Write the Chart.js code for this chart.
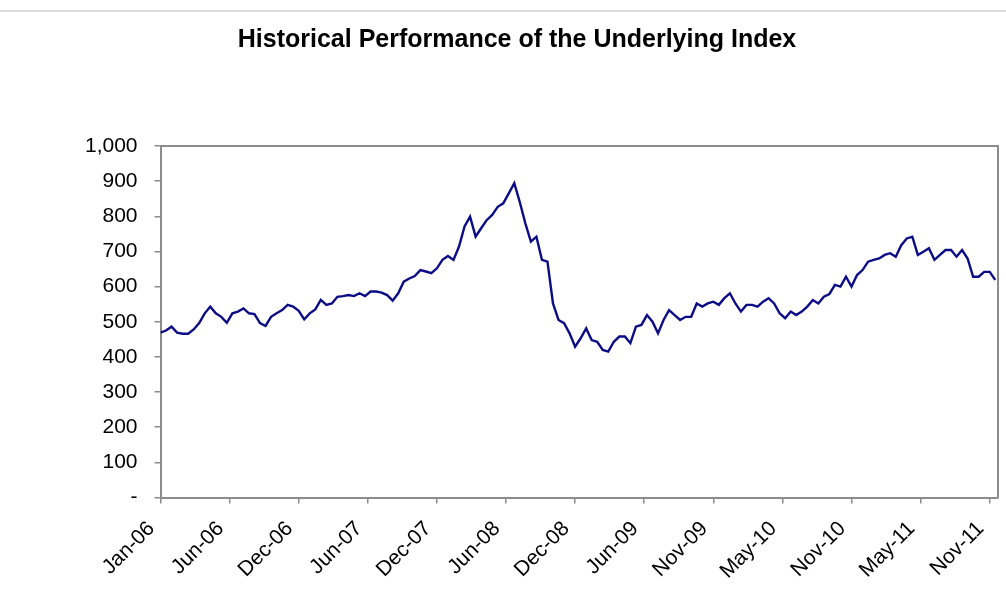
<!DOCTYPE html>
<html>
<head>
<meta charset="utf-8">
<title>Historical Performance of the Underlying Index</title>
<script src="https://cdn.jsdelivr.net/npm/chart.js@4/dist/chart.umd.min.js"></script>
<style>
  html, body { margin: 0; padding: 0; background: #fff; }
  #wrap { width: 1006px; height: 611px; position: relative; }
</style>
</head>
<body>
<div id="wrap"><canvas id="chart" width="1006" height="611"></canvas></div>
<script>
// index level, one reading every STEP trading days from Jan-06
const STEP = 10;
const indexValues = [
    469, 475, 486, 469, 466, 466, 478, 496, 524, 543, 524, 514, 497, 524, 529, 538,
    524, 522, 496, 488, 514, 524, 533, 548, 543, 531, 507, 524, 535, 562, 548,
    552, 571, 573, 576, 573, 581, 573, 586, 586, 583, 576, 560, 581, 614, 623,
    630, 647, 643, 638, 652, 676, 687, 676, 714, 771, 799, 742, 766, 789, 804,
    827, 837, 865, 894, 840, 780, 728, 742, 676, 671, 552, 505, 496, 467, 429,
    453, 481, 448, 443, 420, 415, 443, 458, 458, 439, 486, 491, 519, 500, 467, 505,
    533, 519, 505, 514, 514, 552, 543, 552, 557, 548, 567, 581, 552, 529, 548,
    548, 543, 557, 567, 552, 524, 510, 529, 519, 529, 543, 562, 552, 571, 579, 605,
    600, 628, 600, 633, 647, 671, 676, 680, 690, 695, 685, 718, 737, 742, 690,
    699, 709, 676, 690, 704, 704, 685, 704, 680, 628, 628, 642, 642, 619
];

// category axis labels, one every TICK_EVERY trading days
const TICK_EVERY = 125;
const tickLabels = ['Jan-06', 'Jun-06', 'Dec-06', 'Jun-07', 'Dec-07', 'Jun-08', 'Dec-08',
    'Jun-09', 'Nov-09', 'May-10', 'Nov-10', 'May-11', 'Nov-11'];
const X_MAX = 1515;

const yTicks = [0, 100, 200, 300, 400, 500, 600, 700, 800, 900, 1000];

const TITLE = 'Historical Performance of the Underlying Index';
const FONT = '"Liberation Sans", Arial, Helvetica, sans-serif';
const AXIS_GREY = '#8c8c8c';

// title, thin top rule and the box around the plot (Excel style)
const frameBox = {
    id: 'frameBox',
    beforeDraw(chart) {
        const c = chart.ctx;
        c.save();
        c.strokeStyle = '#dcdcdc';
        c.lineWidth = 2;
        c.beginPath();
        c.moveTo(0, 11);
        c.lineTo(chart.width, 11);
        c.stroke();
        c.fillStyle = '#000';
        c.font = 'bold 25px ' + FONT;
        c.textAlign = 'center';
        c.textBaseline = 'middle';
        c.fillText(TITLE, 517, 40);
        c.restore();
    },
    afterDatasetsDraw(chart) {
        const a = chart.chartArea;
        const c = chart.ctx;
        c.save();
        c.strokeStyle = AXIS_GREY;
        c.lineWidth = 2;
        c.beginPath();
        c.moveTo(a.left, a.top);
        c.lineTo(a.right, a.top);
        c.lineTo(a.right, a.bottom);
        c.stroke();
        c.restore();
    }
};

const points = indexValues.map((v, i) => ({ x: i * STEP, y: v }));

new Chart(document.getElementById('chart'), {
    type: 'line',
    data: {
        datasets: [{
            label: 'Index',
            data: points,
            borderColor: '#0c0c86',
            borderWidth: 2.4,
            pointRadius: 0,
            tension: 0,
            fill: false
        }]
    },
    options: {
        responsive: false,
        animation: false,
        layout: { padding: { left: 0, right: 8, top: 146, bottom: 0 } },
        plugins: {
            legend: { display: false },
            tooltip: { enabled: false },
            title: { display: false }
        },
        scales: {
            x: {
                type: 'linear',
                min: 0,
                max: X_MAX,
                afterBuildTicks: (axis) => {
                    axis.ticks = tickLabels.map((_, i) => ({ value: i * TICK_EVERY }));
                },
                afterFit: (axis) => {
                    axis.height = 113.5;
                    axis.paddingLeft = 0;
                    axis.paddingRight = 0;
                },
                grid: {
                    drawOnChartArea: false,
                    drawTicks: true,
                    tickLength: 6,
                    color: AXIS_GREY,
                    lineWidth: 1.5
                },
                border: { display: true, color: AXIS_GREY, width: 2 },
                ticks: {
                    autoSkip: false,
                    minRotation: 45,
                    maxRotation: 45,
                    padding: 13,
                    labelOffset: -9,
                    color: '#000',
                    font: { family: FONT, size: 21 },
                    callback: (value) => tickLabels[Math.round(value / TICK_EVERY)]
                }
            },
            y: {
                min: 0,
                max: 1000,
                afterBuildTicks: (axis) => {
                    axis.ticks = yTicks.map(v => ({ value: v }));
                },
                afterFit: (axis) => { axis.width = 160.5; },
                grid: {
                    drawOnChartArea: false,
                    drawTicks: true,
                    tickLength: 6,
                    color: AXIS_GREY,
                    lineWidth: 1.5
                },
                border: { display: true, color: AXIS_GREY, width: 2 },
                ticks: {
                    padding: 17,
                    color: '#000',
                    font: { family: FONT, size: 21 },
                    callback: (value) => value === 0 ? '-' : value.toLocaleString('en-US')
                }
            }
        }
    },
    plugins: [frameBox]
});
</script>
</body>
</html>
